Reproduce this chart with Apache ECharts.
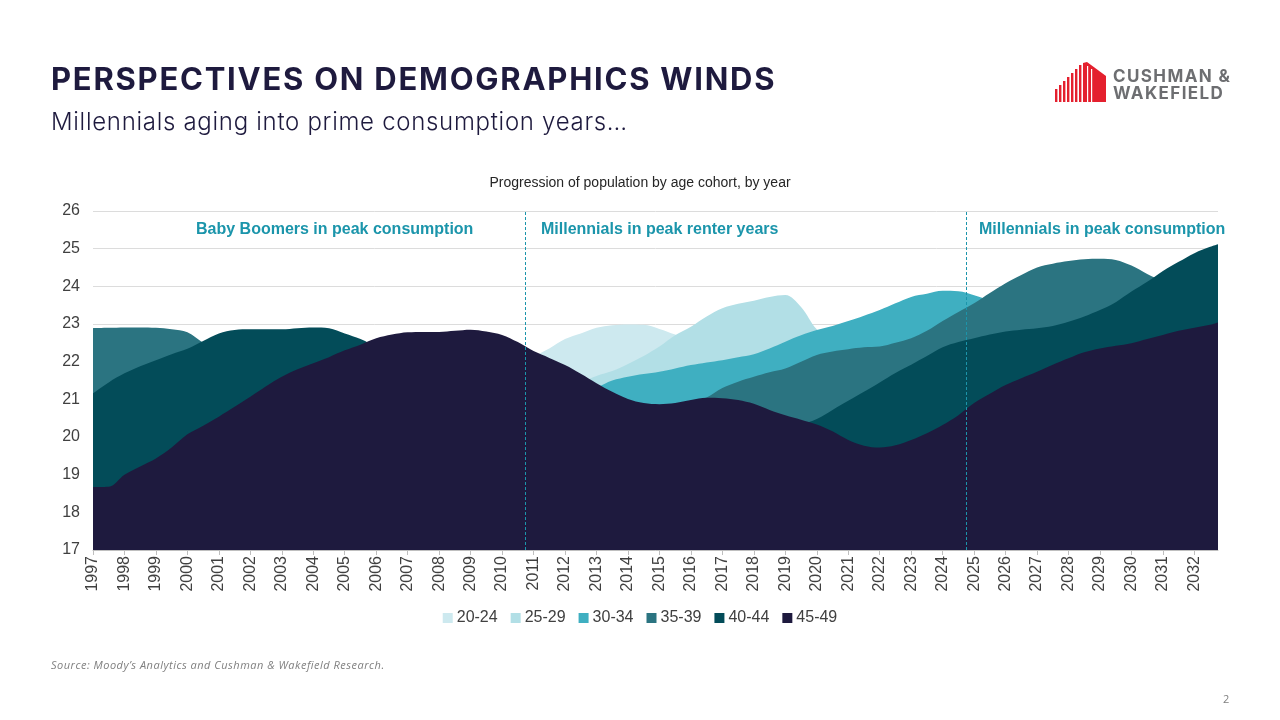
<!DOCTYPE html>
<html>
<head>
<meta charset="utf-8">
<script src="https://cdn.jsdelivr.net/npm/echarts@6/dist/echarts.min.js"></script>
<style>
  html, body { margin: 0; padding: 0; background: #ffffff; }
  #page { position: relative; width: 1280px; height: 720px; overflow: hidden; background: #fff; }
  #chart { position: absolute; left: 0; top: 0; width: 1280px; height: 720px; }
  .ov { position: absolute; z-index: 5; white-space: nowrap; }
  #title { left: 51px; top: 60px; font-family: Inter, "Open Sans", sans-serif; font-weight: 700; font-size: 31px; letter-spacing: 1.75px; color: #1e1a3e; line-height: 38px; }
  #subtitle { left: 51px; top: 107px; font-family: Inter, "Open Sans", sans-serif; font-weight: 300; font-size: 24px; color: #1e1a3e; line-height: 30px; letter-spacing: 0.7px; }
  #source { left: 51px; top: 658px; font-family: "Open Sans", "Liberation Sans", sans-serif; font-style: italic; font-size: 11px; color: #7f7f7f; line-height: 14px; letter-spacing: 0.5px; }
  #pagenum { left: 1223px; top: 692px; font-family: "Open Sans", "Liberation Sans", sans-serif; font-size: 11px; color: #7f7f7f; line-height: 14px; }
  #logoText { left: 1113px; top: 68px; font-family: Inter, "Open Sans", sans-serif; font-weight: 700; font-size: 17px; line-height: 16.5px; color: #6d6e71; letter-spacing: 1.4px; }
  #logoIcon { position: absolute; left: 1054px; top: 62px; z-index: 5; }
</style>
</head>
<body>
<div id="page">
  <div id="chart"></div>
  <div id="title" class="ov">PERSPECTIVES ON DEMOGRAPHICS WINDS</div>
  <div id="subtitle" class="ov">Millennials aging into prime consumption years…</div>
  <svg id="logoIcon" width="54" height="40" viewBox="0 0 54 40">
    <g fill="#e4202e">
      <rect x="1" y="27" width="2.4" height="13"/>
      <rect x="5" y="23" width="2.4" height="17"/>
      <rect x="9" y="19" width="2.4" height="21"/>
      <rect x="13" y="15" width="2.4" height="25"/>
      <rect x="17" y="11" width="2.4" height="29"/>
      <rect x="21" y="7" width="2.4" height="33"/>
      <rect x="25" y="3" width="2.4" height="37"/>
      <polygon points="29,1 33,0 52,14 52,40 29,40"/>
    </g>
    <g fill="#ffffff">
      <rect x="33" y="4" width="1.2" height="36"/>
      <rect x="37" y="7" width="1.2" height="33"/>
    </g>
  </svg>
  <div id="logoText" class="ov">CUSHMAN &amp;<br>WAKEFIELD</div>
  <div id="source" class="ov">Source: Moody’s Analytics and Cushman &amp; Wakefield Research.</div>
  <div id="pagenum" class="ov">2</div>
</div>
<script>
// x positions (years, half-year steps; last point = end of 2032 Q4 data)
const years = [
  1997, 1997.5, 1998, 1998.5, 1999, 1999.5, 2000, 2000.5, 2001, 2001.5,
  2002, 2002.5, 2003, 2003.5, 2004, 2004.5, 2005, 2005.5, 2006, 2006.5,
  2007, 2007.5, 2008, 2008.5, 2009, 2009.5, 2010, 2010.5, 2011, 2011.5,
  2012, 2012.5, 2013, 2013.5, 2014, 2014.5, 2015, 2015.5, 2016, 2016.5,
  2017, 2017.5, 2018, 2018.5, 2019, 2019.5, 2020, 2020.5, 2021, 2021.5,
  2022, 2022.5, 2023, 2023.5, 2024, 2024.5, 2025, 2025.5, 2026, 2026.5,
  2027, 2027.5, 2028, 2028.5, 2029, 2029.5, 2030, 2030.5, 2031, 2031.5,
  2032, 2032.5, 2032.75
];
const tickYears = [1997, 1998, 1999, 2000, 2001, 2002, 2003, 2004, 2005, 2006, 2007, 2008,
  2009, 2010, 2011, 2012, 2013, 2014, 2015, 2016, 2017, 2018, 2019, 2020, 2021, 2022,
  2023, 2024, 2025, 2026, 2027, 2028, 2029, 2030, 2031, 2032];
const seriesNames = ['20-24', '25-29', '30-34', '35-39', '40-44', '45-49'];
const phaseBreaks = [2010.75, 2024.75];

// population (millions) by cohort
const age20_24 = [
  17.6, 17.75, 17.9, 18.1, 18.3, 18.5, 18.7, 18.9, 19.1, 19.3,
  19.5, 19.7, 19.9, 20.1, 20.25, 20.4, 20.55, 20.7, 20.85, 21.0,
  21.15, 21.3, 21.45, 21.6, 21.72, 21.85, 21.95, 22.05, 22.15, 22.35,
  22.6, 22.75, 22.9, 22.97, 22.99, 22.98, 22.87, 22.72, 22.55, 22.4,
  22.25, 22.1, 22.0, 21.9, 21.85, 21.8, 21.75, 21.7, 21.65, 21.6,
  21.58, 21.55, 21.55, 21.55, 21.55, 21.55, 21.55, 21.55, 21.5, 21.5,
  21.5, 21.5, 21.5, 21.5, 21.5, 21.55, 21.6, 21.65, 21.7, 21.75,
  21.8, 21.85, 21.88
];
const age25_29 = [
  19.0, 18.9, 18.85, 18.85, 18.9, 19.0, 19.1, 19.2, 19.3, 19.45,
  19.6, 19.7, 19.8, 19.9, 20.0, 20.1, 20.25, 20.4, 20.55, 20.65,
  20.75, 20.85, 20.95, 21.0, 21.05, 21.1, 21.15, 21.2, 21.25, 21.3,
  21.35, 21.45, 21.62, 21.75, 21.94, 22.15, 22.4, 22.7, 22.93, 23.2,
  23.42, 23.54, 23.62, 23.72, 23.77, 23.45, 22.86, 22.6, 22.5, 22.45,
  22.42, 22.45, 22.5, 22.55, 22.6, 22.62, 22.6, 22.55, 22.5, 22.45,
  22.4, 22.35, 22.3, 22.3, 22.3, 22.3, 22.3, 22.3, 22.32, 22.35,
  22.38, 22.4, 22.42
];
const age30_34 = [
  21.6, 21.3, 21.1, 20.95, 20.9, 20.92, 20.98, 21.0, 20.95, 20.85,
  20.7, 20.55, 20.4, 20.2, 20.0, 19.85, 19.78, 19.8, 19.9, 20.05,
  20.25, 20.45, 20.62, 20.75, 20.85, 20.92, 20.98, 21.05, 21.12, 21.2,
  21.26, 21.3, 21.33, 21.5, 21.6, 21.67, 21.73, 21.82, 21.91, 21.98,
  22.04, 22.12, 22.2, 22.35, 22.53, 22.7, 22.84, 22.95, 23.08, 23.22,
  23.37, 23.55, 23.72, 23.8, 23.88, 23.87, 23.76, 23.62, 23.5, 23.4,
  23.35, 23.3, 23.28, 23.25, 23.22, 23.2, 23.18, 23.15, 23.12, 23.1,
  23.08, 23.06, 23.05
];
const age35_39 = [
  22.89, 22.9, 22.91, 22.91, 22.9, 22.86, 22.78, 22.5, 22.25, 22.1,
  21.9, 21.65, 21.4, 21.2, 21.0, 20.9, 20.87, 20.92, 20.98, 21.02,
  21.02, 20.97, 20.87, 20.72, 20.56, 20.42, 20.3, 20.1, 19.9, 19.76,
  19.72, 19.78, 19.92, 20.1, 20.3, 20.55, 20.78, 20.88, 20.95, 21.05,
  21.3, 21.47, 21.6, 21.72, 21.82, 22.0, 22.18, 22.27, 22.33, 22.38,
  22.4, 22.5, 22.62, 22.82, 23.08, 23.32, 23.55, 23.82, 24.08, 24.3,
  24.5, 24.6, 24.67, 24.72, 24.73, 24.7, 24.55, 24.33, 24.15, 24.05,
  23.95, 23.88, 23.85
];
const age40_44 = [
  21.16, 21.45, 21.69, 21.88, 22.04, 22.2, 22.34, 22.55, 22.75, 22.84,
  22.86, 22.86, 22.86, 22.89, 22.91, 22.89, 22.75, 22.6, 22.4, 22.2,
  21.95, 21.7, 21.45, 21.2, 21.0, 20.95, 20.92, 20.95, 21.0, 20.98,
  20.9, 20.75, 20.6, 20.45, 20.3, 20.1, 19.95, 19.8, 19.72, 19.75,
  19.85, 19.98, 20.1, 20.2, 20.28, 20.34, 20.48, 20.72, 20.96, 21.2,
  21.45, 21.7, 21.92, 22.15, 22.38, 22.52, 22.62, 22.72, 22.8, 22.85,
  22.89, 22.95, 23.06, 23.2, 23.37, 23.58, 23.86, 24.12, 24.41, 24.65,
  24.88, 25.05, 25.12
];
const age45_49 = [
  18.67, 18.68, 19.0, 19.22, 19.43, 19.72, 20.07, 20.3, 20.54, 20.8,
  21.07, 21.35, 21.6, 21.8, 21.96, 22.12, 22.3, 22.45, 22.62, 22.72,
  22.78, 22.79, 22.79, 22.82, 22.85, 22.8, 22.71, 22.52, 22.28, 22.1,
  21.91, 21.68, 21.43, 21.2, 21.01, 20.9, 20.87, 20.9, 20.98, 21.04,
  21.03, 20.98, 20.88, 20.72, 20.58, 20.46, 20.33, 20.15, 19.92, 19.77,
  19.72, 19.78, 19.92, 20.1, 20.32, 20.58, 20.9, 21.15, 21.38, 21.56,
  21.73, 21.92, 22.09, 22.25, 22.35, 22.42, 22.49, 22.6, 22.71, 22.82,
  22.9, 22.98, 23.04
];

const colors = ['#cde9ef', '#b2dfe6', '#3fafc1', '#2b7481', '#034c59', '#1e1a3e'];
const cohortValues = [age20_24, age25_29, age30_34, age35_39, age40_44, age45_49];
const FONT = '"Liberation Sans", Arial, sans-serif';
const ANNOT = '#1b95ab';

const chart = echarts.init(document.getElementById('chart'), null, { renderer: 'canvas' });

const series = seriesNames.map((name, i) => {
  const s = {
    name: name,
    type: 'line',
    smooth: 0.35,
    symbol: 'none',
    showSymbol: false,
    silent: true,
    lineStyle: { width: 0, color: colors[i] },
    itemStyle: { color: colors[i] },
    areaStyle: { color: colors[i], opacity: 1 },
    emphasis: { disabled: true },
    data: years.map((y, j) => [y, cohortValues[i][j]])
  };
  if (i === seriesNames.length - 1) {
    s.markLine = {
      silent: true,
      symbol: ['none', 'none'],
      label: { show: false },
      lineStyle: { color: ANNOT, type: [3, 2], width: 1 },
      emphasis: { disabled: true },
      data: phaseBreaks.map(v => ({ xAxis: v }))
    };
  }
  return s;
});

chart.setOption({
  animation: false,
  backgroundColor: 'transparent',
  textStyle: { fontFamily: FONT },
  title: {
    text: 'Progression of population by age cohort, by year',
    left: 'center',
    top: 171,
    textStyle: { fontFamily: FONT, fontSize: 14, fontWeight: 'normal', color: '#262626' }
  },
  legend: {
    data: seriesNames,
    left: 'center',
    top: 605,
    icon: 'rect',
    itemWidth: 10,
    itemHeight: 10,
    itemGap: 13,
    textStyle: { fontFamily: FONT, fontSize: 16, color: '#404040', padding: [0, 0, 0, -1] },
    selectedMode: false
  },
  grid: { left: 93, right: 62, top: 211, bottom: 170, containLabel: false },
  xAxis: {
    type: 'value',
    min: 1997,
    max: 2032.75,
    interval: 1,
    splitLine: { show: false },
    axisLine: { show: true, lineStyle: { color: '#bfbfbf', width: 1 } },
    axisTick: { show: true, length: 5, lineStyle: { color: '#bfbfbf' }, customValues: tickYears },
    axisLabel: {
      rotate: 90,
      margin: 6,
      fontFamily: FONT,
      fontSize: 16,
      color: '#404040',
      customValues: tickYears,
      formatter: v => (Number.isInteger(v) ? String(v) : '')
    }
  },
  yAxis: {
    type: 'value',
    min: 17,
    max: 26,
    interval: 1,
    axisLine: { show: false },
    axisTick: { show: false },
    splitLine: { show: true, lineStyle: { color: '#dcdcdc', width: 1 } },
    axisLabel: { margin: 13, fontFamily: FONT, fontSize: 16, color: '#404040' }
  },
  graphic: [
    { type: 'text', left: 196, top: 222, z: 10, silent: true,
      style: { text: 'Baby Boomers in peak consumption', fill: ANNOT, font: 'bold 16px ' + FONT } },
    { type: 'text', left: 541, top: 222, z: 10, silent: true,
      style: { text: 'Millennials in peak renter years', fill: ANNOT, font: 'bold 16px ' + FONT } },
    { type: 'text', left: 979, top: 222, z: 10, silent: true,
      style: { text: 'Millennials in peak consumption', fill: ANNOT, font: 'bold 16px ' + FONT } }
  ],
  series: series
});
</script>
</body>
</html>
